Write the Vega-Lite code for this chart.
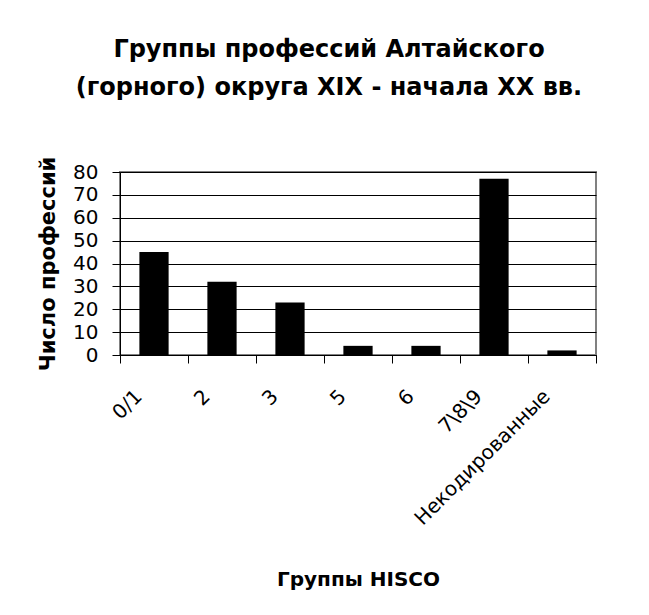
{
  "$schema": "https://vega.github.io/schema/vega-lite/v6.json",
  "width": 476,
  "height": 183,
  "autosize": {"type": "none"},
  "padding": {"left": 120, "top": 172, "right": 53, "bottom": 260},
  "background": "white",
  "title": {
    "text": ["Группы профессий Алтайского", "(горного) округа XIX - начала XX вв."],
    "font": "DejaVu Sans",
    "fontSize": 24,
    "fontWeight": "bold",
    "color": "black",
    "anchor": "middle",
    "dx": -29,
    "lineHeight": 38,
    "offset": 56
  },
  "data": {
    "values": [
      {"group": "0/1", "count": 45},
      {"group": "2", "count": 32},
      {"group": "3", "count": 23},
      {"group": "5", "count": 4},
      {"group": "6", "count": 4},
      {"group": "7\\8\\9", "count": 77},
      {"group": "Некодированные", "count": 2}
    ]
  },
  "mark": {"type": "bar", "color": "black", "width": {"band": 0.43}},
  "encoding": {
    "x": {
      "field": "group",
      "type": "nominal",
      "sort": null,
      "scale": {"paddingInner": 0, "paddingOuter": 0},
      "axis": {
        "title": "Группы HISCO",
        "titleFont": "DejaVu Sans",
        "titleFontSize": 20,
        "titleFontWeight": "bold",
        "titleColor": "black",
        "titleBaseline": "alphabetic",
        "titleY": 230,
        "labelFont": "DejaVu Sans",
        "labelFontSize": 20,
        "labelColor": "black",
        "labelAngle": -45,
        "labelAlign": "right",
        "labelBaseline": "middle",
        "labelOffset": -15,
        "labelPadding": 30,
        "labelLimit": 400,
        "bandPosition": 1,
        "tickExtra": true,
        "tickSize": 8,
        "tickColor": "black",
        "domainColor": "black",
        "grid": false
      }
    },
    "y": {
      "field": "count",
      "type": "quantitative",
      "scale": {"domain": [0, 80], "nice": false},
      "axis": {
        "title": "Число профессий",
        "titleFont": "DejaVu Sans",
        "titleFontSize": 21,
        "titleFontWeight": "bold",
        "titleColor": "black",
        "titleBaseline": "middle",
        "titleX": -72,
        "labelFont": "DejaVu Sans",
        "labelFontSize": 20,
        "labelColor": "black",
        "labelPadding": 14,
        "values": [0, 10, 20, 30, 40, 50, 60, 70, 80],
        "tickSize": 8,
        "tickColor": "black",
        "domainColor": "black",
        "grid": true,
        "gridColor": "black",
        "gridOpacity": 1
      }
    }
  },
  "config": {
    "view": {"stroke": "#808080", "strokeWidth": 2}
  }
}
